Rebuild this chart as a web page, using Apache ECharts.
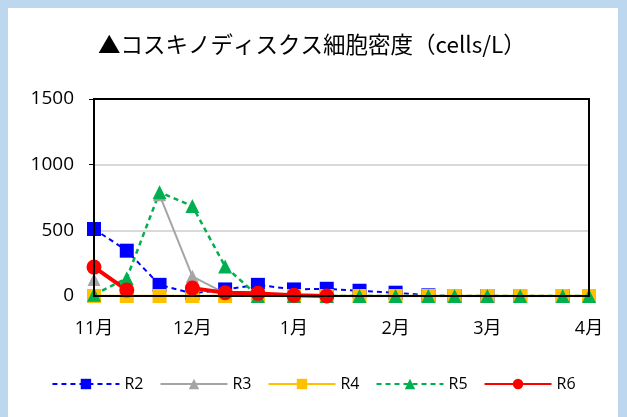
<!DOCTYPE html>
<html><head><meta charset="utf-8">
<script src="https://cdn.jsdelivr.net/npm/echarts@6/dist/echarts.min.js"></script>
<style>
html,body{margin:0;padding:0;background:#BDD7EE;}
#frame{position:absolute;left:8px;top:8px;width:610px;height:409px;background:#fff;}
#c{position:absolute;left:-8px;top:-8px;width:627px;height:417px;}
</style></head>
<body><div id="frame"><div id="c"></div></div>
<script>
const dates = ['2022-11-01','2022-11-11','2022-11-21','2022-12-01','2022-12-11','2022-12-21','2023-01-01','2023-01-11','2023-01-21','2023-02-01','2023-02-11','2023-02-19','2023-03-01','2023-03-11','2023-03-24','2023-04-01'];
const r2 = [510, 345, 85, 20, 50, 85, 50, 55, 40, 25, 5, 0, 0, 0, 0, 0];
const r3 = [125, null, 770, 150, 20, 0, 0, 0, 0, 0, 0, 0, 0, 0, 0, 0];
const r4 = [0, 0, 0, 0, 0, 0, 0, 0, 0, 0, 0, 0, 0, 0, 0, 0];
const r5 = [10, 135, 790, 685, 225, 0, 0, 0, 0, 0, 0, 0, 0, 0, 0, 0];
const r6 = [220, 45, null, 60, 25, 20, 5, 0, null, null, null, null, null, null, null, null];
const yTicks = [0, 500, 1000, 1500];
const seriesNames = ['R2','R3','R4','R5','R6'];
const titleText = '▲コスキノディスクス細胞密度（cells/L）';

const pair = arr => dates.map((d,i)=>[d, arr[i]]);
const chart = echarts.init(document.getElementById('c'));
const font = '"Open Sans","Noto Sans CJK JP",sans-serif';
function mk(name, data, color, dashed, width, symbol, size){
  return {name, type:'line', data:pair(data), connectNulls:false,
    lineStyle:{color, width, type: dashed ? [5,4] : 'solid'},
    itemStyle:{color}, symbol, symbolSize:size, showAllSymbol:true, animation:false};
}
chart.setOption({
  animation:false,
  title:{text:titleText, left:93, top:28, textStyle:{fontFamily:'"Noto Sans CJK JP",sans-serif', fontSize:22.5, fontWeight:'normal', color:'#000'}},
  grid:{left:94, right:38, top:99, bottom:121, show:true, borderColor:'#000', borderWidth:2, z:10},
  xAxis:[{type:'time', min:'2022-11-01', max:'2023-04-01',
    axisLine:{lineStyle:{color:'#000', width:2}}, axisTick:{show:false}, splitLine:{show:false},
    axisLabel:{fontFamily:font, fontSize:18, color:'#000', margin:24,
      formatter: v => (new Date(v).getMonth()+1)+'月'}},
    {type:'value', position:'top', min:0, max:1, axisLine:{show:true, lineStyle:{color:'#000', width:2}},
     axisTick:{show:false}, axisLabel:{show:false}, splitLine:{show:false}}],
  yAxis:[{type:'value', min:0, max:1500, interval:500,
    axisLine:{show:true, lineStyle:{color:'#000', width:2}},
    splitLine:{lineStyle:{color:'#d9d9d9', width:2}},
    axisLabel:{fontFamily:font, fontSize:19, color:'#000', margin:20, formatter: v => String(v)}},
    {type:'value', position:'right', min:0, max:1, axisLine:{show:true, lineStyle:{color:'#000', width:2}},
     axisTick:{show:false}, axisLabel:{show:false}, splitLine:{show:false}}],
  legend:{bottom:20, left:'center', itemWidth:67, itemHeight:13, itemGap:16,
    textStyle:{fontFamily:font, fontSize:16, color:'#000'}, data:seriesNames},
  series:[
    mk('R2', r2, '#0000FF', true, 2, 'rect', 14),
    mk('R3', r3, '#A5A5A5', false, 2, 'triangle', 13),
    mk('R4', r4, '#FFC000', false, 2.5, 'rect', 14),
    mk('R5', r5, '#00B050', true, 2.5, 'triangle', 14),
    mk('R6', r6, '#FF0000', false, 4, 'circle', 15)
  ]
});
</script></body></html>
